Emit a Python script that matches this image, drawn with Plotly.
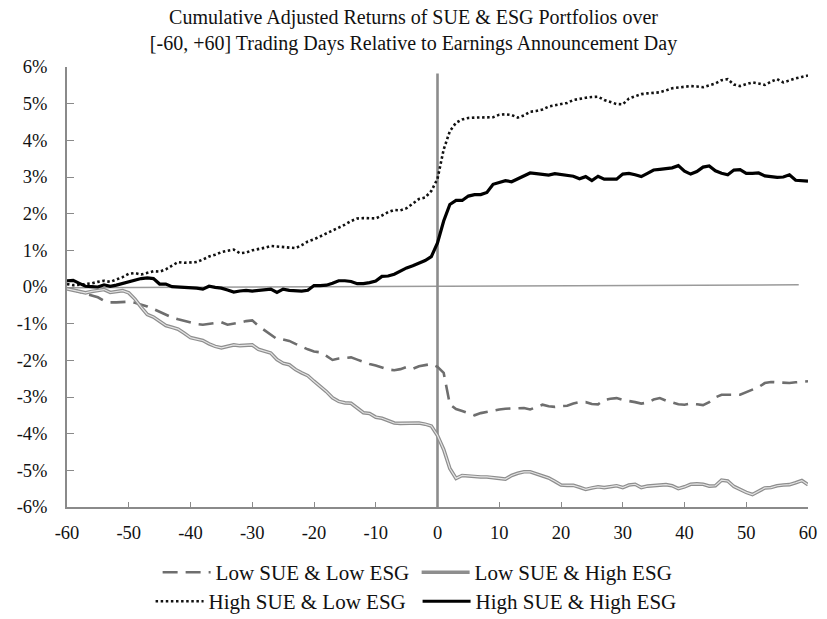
import plotly.graph_objects as go

days = list(range(-60, 61))

low_sue_low_esg = [
    -0.03, -0.08, -0.12, -0.17, -0.22, -0.28, -0.38, -0.42, -0.42, -0.41,
    -0.40, -0.43, -0.47, -0.53, -0.60, -0.68, -0.76, -0.83, -0.88, -0.93,
    -0.97, -1.01, -1.03, -1.01, -0.97, -0.96, -1.03, -1.01, -0.97, -0.93,
    -0.91, -1.06, -1.18, -1.30, -1.42, -1.43, -1.47, -1.55, -1.63, -1.70,
    -1.76, -1.78, -1.88, -1.99, -1.95, -1.94, -1.92, -1.98, -2.05, -2.10,
    -2.14, -2.19, -2.25, -2.27, -2.24, -2.18, -2.23, -2.16, -2.12, -2.10,
    -2.18, -2.34, -3.20, -3.33, -3.38, -3.44, -3.50, -3.44, -3.40, -3.36,
    -3.34, -3.32, -3.31, -3.30, -3.30, -3.34, -3.27, -3.21, -3.25, -3.27,
    -3.25, -3.24, -3.18, -3.14, -3.14, -3.19, -3.20, -3.08, -3.05, -3.03,
    -3.08, -3.10, -3.14, -3.18, -3.15, -3.07, -3.03, -3.10, -3.16, -3.20,
    -3.21, -3.18, -3.20, -3.22, -3.14, -3.01, -2.94, -2.95, -2.94, -2.94,
    -2.88, -2.80, -2.73, -2.62, -2.59, -2.60, -2.63, -2.62, -2.60, -2.59,
    -2.57,
]

low_sue_high_esg = [
    -0.05, -0.09, -0.13, -0.16, -0.12, -0.09, -0.07, -0.15, -0.13, -0.10,
    -0.16, -0.33, -0.55, -0.75, -0.82, -0.94, -1.05, -1.10, -1.15, -1.26,
    -1.38, -1.42, -1.46, -1.55, -1.62, -1.66, -1.62, -1.58, -1.60, -1.58,
    -1.58, -1.70, -1.74, -1.80, -1.98, -2.08, -2.12, -2.25, -2.34, -2.42,
    -2.57, -2.70, -2.85, -3.02, -3.12, -3.16, -3.17, -3.30, -3.43, -3.45,
    -3.55, -3.58, -3.65, -3.71, -3.72, -3.72, -3.72, -3.71, -3.74, -3.79,
    -4.05, -4.43, -4.95, -5.22, -5.14, -5.16, -5.17, -5.18, -5.18, -5.19,
    -5.22, -5.24, -5.14, -5.08, -5.04, -5.04, -5.09, -5.16, -5.21, -5.30,
    -5.40, -5.41, -5.41, -5.46, -5.52, -5.48, -5.45, -5.47, -5.44, -5.42,
    -5.47, -5.40, -5.38, -5.47, -5.43, -5.42, -5.41, -5.39, -5.42, -5.50,
    -5.45, -5.38, -5.37, -5.38, -5.43, -5.42, -5.27, -5.29, -5.44, -5.53,
    -5.60, -5.66, -5.58, -5.48, -5.47, -5.42, -5.40, -5.39, -5.34, -5.28,
    -5.39,
]

high_sue_low_esg = [
    0.08, 0.05, 0.06, 0.07, 0.10, 0.14, 0.17, 0.14, 0.20, 0.27,
    0.36, 0.38, 0.34, 0.38, 0.43, 0.42, 0.48, 0.58, 0.68, 0.66,
    0.67, 0.68, 0.75, 0.83, 0.88, 0.95, 0.99, 1.02, 0.92, 0.94,
    1.00, 1.03, 1.07, 1.12, 1.11, 1.10, 1.08, 1.06, 1.14, 1.24,
    1.30, 1.38, 1.45, 1.54, 1.62, 1.70, 1.80, 1.87, 1.88, 1.88,
    1.87, 1.95, 2.04, 2.10, 2.09, 2.15, 2.28, 2.40, 2.44, 2.62,
    2.95, 3.75, 4.25, 4.48, 4.57, 4.61, 4.62, 4.62, 4.61, 4.63,
    4.70, 4.71, 4.69, 4.62, 4.68, 4.78, 4.80, 4.84, 4.92, 4.96,
    4.98, 5.02, 5.10, 5.14, 5.16, 5.18, 5.19, 5.10, 5.04, 4.99,
    4.98, 5.14, 5.20, 5.26, 5.28, 5.29, 5.31, 5.36, 5.42, 5.44,
    5.46, 5.48, 5.47, 5.45, 5.50, 5.55, 5.64, 5.67, 5.52, 5.48,
    5.53, 5.58, 5.55, 5.51, 5.60, 5.67, 5.58, 5.64, 5.69, 5.73,
    5.77,
]

high_sue_high_esg = [
    0.17, 0.18, 0.10, 0.02, 0.01, 0.00, 0.06, 0.02, 0.05, 0.10,
    0.14, 0.19, 0.23, 0.25, 0.23, 0.08, 0.08, 0.01, 0.00, 0.00,
    -0.02, -0.03, -0.06, 0.02, -0.01, -0.03, -0.08, -0.14, -0.11, -0.09,
    -0.11, -0.10, -0.09, -0.06, -0.15, -0.06, -0.09, -0.10, -0.11, -0.09,
    0.04, 0.04, 0.05, 0.10, 0.17, 0.17, 0.15, 0.09, 0.09, 0.12,
    0.16, 0.29, 0.30, 0.35, 0.44, 0.52, 0.58, 0.65, 0.72, 0.83,
    1.20, 1.80, 2.25, 2.36, 2.36, 2.48, 2.52, 2.52, 2.58, 2.80,
    2.85, 2.90, 2.87, 2.95, 3.02, 3.11, 3.09, 3.07, 3.05, 3.09,
    3.07, 3.06, 3.02, 2.95, 3.01, 2.90, 3.02, 2.94, 2.94, 2.94,
    3.08, 3.10, 3.06, 3.01, 3.10, 3.19, 3.21, 3.23, 3.25, 3.31,
    3.16, 3.08, 3.15, 3.27, 3.30, 3.17, 3.10, 3.06, 3.19, 3.20,
    3.10, 3.10, 3.11, 3.03, 3.00, 2.99, 3.00, 3.06, 2.91, 2.89,
    2.89,
]

x_ticks = list(range(-60, 61, 10))
y_ticks = list(range(-6, 7))
y_tick_labels = [f"{v}%" for v in y_ticks]

zero_line_x = [-60, 58.5]
zero_line_y = [-0.02, 0.06]
event_line_x = [0, 0]
event_line_y = [-6, 5.82]

FONT = "Liberation Serif, Times New Roman, serif"

fig = go.Figure()

fig.add_trace(go.Scatter(x=zero_line_x, y=zero_line_y, mode="lines",
                         line=dict(color="#9a9a9a", width=1.6),
                         showlegend=False, hoverinfo="skip"))
fig.add_trace(go.Scatter(x=event_line_x, y=event_line_y, mode="lines",
                         line=dict(color="#8c8c8c", width=2.6),
                         showlegend=False, hoverinfo="skip"))

fig.add_trace(go.Scatter(x=days, y=low_sue_low_esg, mode="lines",
                         name="Low SUE & Low ESG",
                         line=dict(color="#6e6e6e", width=2.6, dash="15px,8px"),
                         legend="legend"))
fig.add_trace(go.Scatter(x=days, y=low_sue_high_esg, mode="lines",
                         name="Low SUE & High ESG",
                         line=dict(color="#8e8e8e", width=3.6),
                         legend="legend", legendgroup="lh"))
fig.add_trace(go.Scatter(x=days, y=low_sue_high_esg, mode="lines",
                         name="Low SUE & High ESG",
                         line=dict(color="#e4e4e4", width=1.2),
                         showlegend=False, legendgroup="lh", hoverinfo="skip"))
fig.add_trace(go.Scatter(x=days, y=high_sue_low_esg, mode="lines",
                         name="High SUE & Low ESG",
                         line=dict(color="#111111", width=2.6, dash="2.5px,2.6px"),
                         legend="legend2"))
fig.add_trace(go.Scatter(x=days, y=high_sue_high_esg, mode="lines",
                         name="High SUE & High ESG",
                         line=dict(color="#000000", width=3.2),
                         legend="legend2"))

axis_color = "#8a8a8a"

fig.update_layout(
    width=827, height=619,
    paper_bgcolor="white", plot_bgcolor="white",
    margin=dict(l=67, r=19, t=67, b=112, autoexpand=False),
    font=dict(family=FONT, size=18, color="#111111"),
    title=dict(
        text="Cumulative Adjusted Returns of SUE & ESG Portfolios over<br>[-60, +60] Trading Days Relative to Earnings Announcement Day",
        x=0.5, xref="container", xanchor="center",
        y=0.962, yref="container", yanchor="top",
        font=dict(family=FONT, size=20, color="#111111"),
    ),
    xaxis=dict(
        range=[-60, 60], tickvals=x_ticks, ticktext=[str(v) for v in x_ticks],
        showgrid=False, zeroline=False, automargin=False,
        showline=True, linecolor=axis_color, linewidth=1.6,
        ticks="inside", ticklen=5, tickwidth=1.4, tickcolor=axis_color,
        tickfont=dict(family=FONT, size=18.5, color="#111111"),
        ticklabelstandoff=8,
    ),
    yaxis=dict(
        range=[-6, 6], tickvals=y_ticks, ticktext=y_tick_labels,
        showgrid=False, zeroline=False, automargin=False,
        showline=True, linecolor=axis_color, linewidth=1.6,
        ticks="inside", ticklen=7, tickwidth=1.4, tickcolor=axis_color,
        tickfont=dict(family=FONT, size=18.5, color="#111111"),
        ticklabelstandoff=14,
    ),
    legend=dict(
        orientation="h", x=0.1223, xanchor="left", y=-0.149, yanchor="middle",
        entrywidth=196, entrywidthmode="pixels", itemwidth=48,
        font=dict(family=FONT, size=21, color="#111111"),
        bgcolor="rgba(0,0,0,0)", borderwidth=0, traceorder="normal",
    ),
    legend2=dict(
        orientation="h", x=0.1128, xanchor="left", y=-0.215, yanchor="middle",
        entrywidth=204, entrywidthmode="pixels", itemwidth=48,
        font=dict(family=FONT, size=21, color="#111111"),
        bgcolor="rgba(0,0,0,0)", borderwidth=0, traceorder="normal",
    ),
)

fig.write_html("out.html",
               config={"displayModeBar": False},
               post_script="document.body.style.margin='0px';document.body.style.padding='0px';")
